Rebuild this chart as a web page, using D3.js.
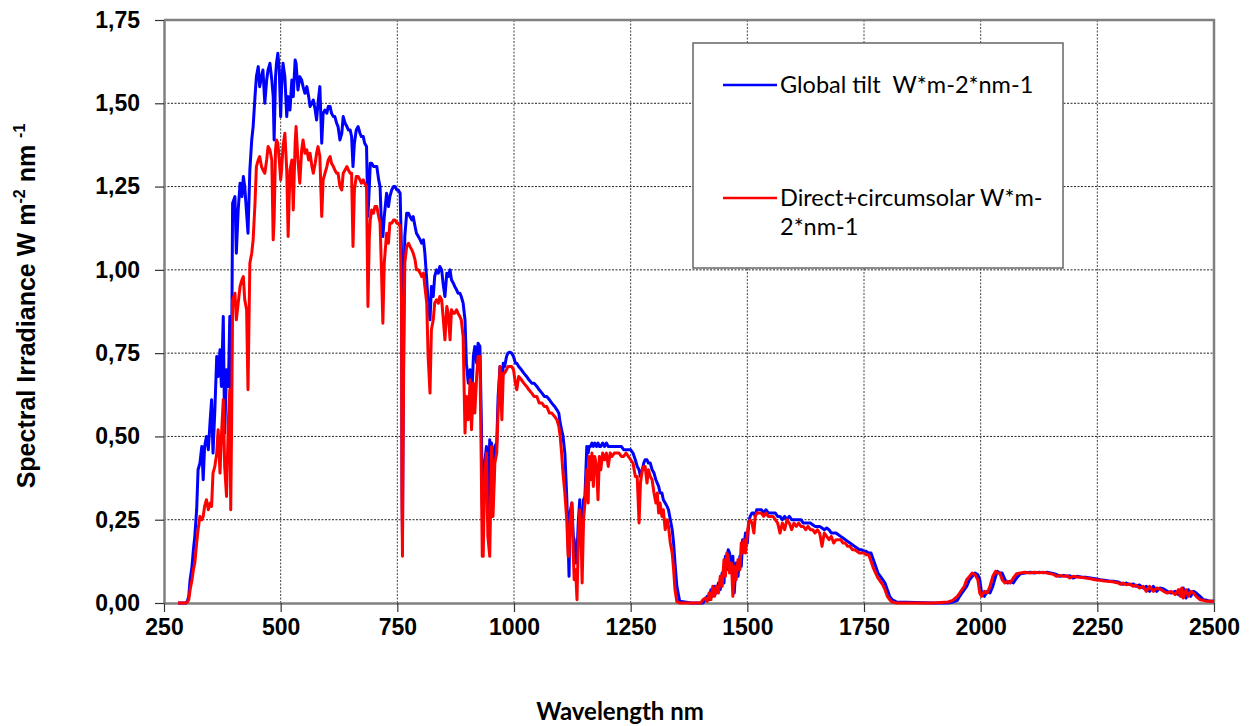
<!DOCTYPE html>
<html>
<head>
<meta charset="utf-8">
<script src="https://d3js.org/d3.v7.min.js"></script>
<style>
  body { margin: 0; background: #fff; }
</style>
</head>
<body>
<div id="my_dataviz"></div>
<script>

// wavelength (nm) and spectral irradiance (W m-2 nm-1)
var wavelength = [280,290,297,300,303,306,310,313,316,320,323,327,331,334,337,341,345,349,352,355,359,363,366,370,373,377,380,384,388,391,393,395,397,402,405,409,413,417,420,423,427,430,434,438,441,445,448,452,455,459,462,466,470,473,477,481,484,486,489,491,494,497,500,502,505,509,513,516,520,524,527,531,533,537,541,545,548,552,556,560,563,567,570,574,577,580,584,588,591,595,599,602,606,609,613,616,620,623,627,631,634,638,642,645,649,652,655,658,662,666,670,673,677,680,684,687,690,692,695,699,702,706,710,713,716,719,722,727,731,734,738,742,745,749,752,756,759,760,761,762,764,766,770,774,777,781,784,788,791,795,799,802,806,809,813,816,820,823,827,830,834,838,841,845,848,852,856,859,863,866,870,873,877,880,884,887,891,895,898,902,906,909,913,916,920,923,927,930,932,934,937,941,944,948,950,952,955,959,963,966,970,974,977,980,984,987,991,995,999,1003,1006,1010,1016,1021,1027,1032,1038,1043,1049,1054,1060,1065,1070,1076,1081,1087,1092,1096,1099,1102,1105,1109,1113,1116,1118,1120,1124,1127,1129,1132,1135,1138,1141,1144,1146,1149,1152,1156,1159,1161,1164,1167,1170,1173,1177,1180,1183,1186,1190,1194,1198,1202,1206,1210,1215,1220,1225,1230,1235,1240,1245,1250,1255,1260,1264,1268,1271,1275,1278,1281,1285,1288,1292,1296,1300,1304,1307,1310,1313,1317,1320,1324,1328,1331,1335,1339,1342,1345,1349,1355,1380,1400,1405,1410,1414,1418,1422,1426,1430,1434,1438,1442,1446,1450,1453,1456,1459,1462,1466,1469,1472,1476,1480,1484,1487,1490,1493,1496,1500,1503,1506,1510,1514,1517,1520,1525,1530,1535,1540,1545,1550,1555,1560,1565,1570,1575,1580,1585,1590,1595,1600,1605,1610,1615,1620,1625,1630,1635,1640,1645,1650,1655,1660,1665,1670,1675,1680,1685,1690,1695,1700,1705,1710,1715,1720,1725,1730,1735,1740,1745,1750,1755,1760,1765,1770,1775,1780,1785,1790,1795,1800,1805,1810,1820,1900,1930,1940,1950,1955,1960,1965,1970,1976,1982,1988,1994,1998,2002,2008,2014,2020,2026,2032,2036,2041,2046,2052,2058,2063,2070,2077,2085,2095,2106,2115,2125,2135,2142,2150,2157,2163,2170,2178,2185,2191,2198,2206,2215,2225,2235,2245,2256,2265,2275,2285,2295,2300,2305,2312,2320,2327,2333,2340,2348,2355,2362,2370,2377,2384,2392,2400,2408,2417,2424,2428,2431,2434,2440,2445,2450,2456,2462,2470,2477,2485,2492,2500];

var globalTilt = [0,0,0,0.005,0.02,0.07,0.11,0.16,0.20,0.28,0.40,0.42,0.47,0.37,0.47,0.50,0.46,0.55,0.61,0.45,0.58,0.74,0.68,0.76,0.65,0.86,0.51,0.70,0.65,0.86,0.60,0.75,1.20,1.22,1.05,1.18,1.26,1.22,1.28,1.25,1.17,1.11,1.30,1.39,1.43,1.52,1.58,1.61,1.55,1.58,1.60,1.50,1.57,1.60,1.62,1.57,1.52,1.39,1.58,1.62,1.65,1.60,1.46,1.55,1.62,1.58,1.46,1.52,1.48,1.57,1.52,1.63,1.62,1.54,1.58,1.57,1.55,1.53,1.55,1.52,1.49,1.50,1.51,1.48,1.45,1.50,1.55,1.38,1.47,1.48,1.47,1.49,1.49,1.47,1.46,1.46,1.44,1.43,1.39,1.41,1.46,1.44,1.43,1.42,1.42,1.40,1.31,1.38,1.42,1.43,1.41,1.40,1.40,1.38,1.37,1.16,1.25,1.32,1.32,1.31,1.31,1.31,1.27,1.25,1.13,1.10,1.16,1.23,1.19,1.22,1.24,1.25,1.25,1.24,1.24,1.23,1.05,0.35,0.20,0.45,0.85,1.10,1.17,1.17,1.16,1.15,1.16,1.13,1.11,1.10,1.09,1.08,1.09,1.05,0.97,0.90,0.85,0.95,0.92,0.98,1.00,0.99,1.01,1.00,0.96,0.92,0.99,0.98,1.00,0.97,0.96,0.95,0.94,0.93,0.93,0.92,0.90,0.85,0.72,0.66,0.70,0.60,0.74,0.77,0.72,0.78,0.77,0.55,0.30,0.20,0.42,0.47,0.25,0.49,0.35,0.48,0.30,0.47,0.48,0.62,0.71,0.62,0.72,0.71,0.74,0.75,0.753,0.75,0.74,0.72,0.72,0.71,0.70,0.69,0.68,0.67,0.66,0.66,0.65,0.64,0.63,0.62,0.62,0.61,0.60,0.59,0.58,0.57,0.54,0.52,0.50,0.45,0.32,0.18,0.08,0.27,0.30,0.20,0.19,0.12,0.15,0.25,0.31,0.22,0.15,0.31,0.32,0.47,0.45,0.47,0.47,0.48,0.47,0.48,0.47,0.48,0.47,0.47,0.48,0.47,0.48,0.47,0.47,0.47,0.47,0.47,0.47,0.47,0.46,0.46,0.46,0.46,0.45,0.43,0.41,0.40,0.38,0.40,0.42,0.43,0.43,0.42,0.42,0.40,0.39,0.37,0.36,0.35,0.33,0.33,0.31,0.30,0.29,0.28,0.25,0.22,0.18,0.12,0.05,0.005,0,0,0,0.01,0.02,0.01,0.04,0.02,0.05,0.03,0.06,0.04,0.09,0.06,0.14,0.10,0.16,0.15,0.10,0.14,0.03,0.12,0.08,0.14,0.11,0.19,0.17,0.21,0.18,0.24,0.26,0.27,0.27,0.26,0.28,0.28,0.28,0.27,0.28,0.27,0.27,0.27,0.27,0.26,0.26,0.25,0.26,0.25,0.26,0.25,0.25,0.25,0.25,0.25,0.24,0.24,0.24,0.24,0.235,0.23,0.23,0.23,0.225,0.22,0.225,0.22,0.21,0.21,0.21,0.205,0.20,0.195,0.19,0.185,0.18,0.175,0.17,0.165,0.16,0.16,0.155,0.155,0.15,0.15,0.13,0.11,0.09,0.08,0.07,0.06,0.04,0.02,0.01,0.003,0,0,0.003,0.008,0.02,0.03,0.04,0.05,0.07,0.08,0.09,0.085,0.07,0.03,0.02,0.035,0.03,0.05,0.08,0.095,0.09,0.09,0.07,0.06,0.065,0.06,0.075,0.088,0.09,0.092,0.09,0.092,0.091,0.092,0.09,0.088,0.085,0.08,0.083,0.08,0.082,0.075,0.08,0.078,0.077,0.075,0.073,0.07,0.068,0.066,0.065,0.063,0.06,0.056,0.06,0.055,0.057,0.05,0.054,0.045,0.05,0.035,0.05,0.035,0.045,0.042,0.035,0.03,0.035,0.025,0.04,0.02,0.045,0.015,0.04,0.02,0.035,0.03,0.02,0.01,0.008,0.005,0.006,0.004];

var directCircum = [0,0,0,0.003,0.01,0.04,0.07,0.10,0.12,0.18,0.22,0.26,0.25,0.26,0.29,0.31,0.28,0.30,0.29,0.39,0.41,0.45,0.52,0.39,0.50,0.61,0.41,0.32,0.55,0.64,0.28,0.55,0.91,0.93,0.85,0.90,0.95,0.97,0.98,0.91,0.88,0.64,1.02,1.05,1.09,1.20,1.31,1.33,1.34,1.31,1.30,1.29,1.33,1.37,1.36,1.33,1.09,1.15,1.36,1.39,1.38,1.33,1.27,1.30,1.37,1.41,1.30,1.10,1.30,1.33,1.18,1.38,1.43,1.33,1.26,1.36,1.39,1.35,1.36,1.33,1.35,1.31,1.29,1.32,1.35,1.37,1.34,1.16,1.27,1.29,1.31,1.33,1.34,1.32,1.31,1.30,1.29,1.29,1.25,1.24,1.29,1.30,1.31,1.30,1.29,1.29,1.07,1.24,1.28,1.28,1.27,1.26,1.27,1.26,1.25,0.89,1.10,1.15,1.18,1.17,1.19,1.19,1.16,1.14,1.00,0.84,1.02,1.11,1.08,1.14,1.14,1.15,1.15,1.14,1.14,1.13,0.90,0.30,0.14,0.40,0.78,1.02,1.07,1.08,1.07,1.06,1.05,1.03,1.00,1.00,0.99,0.98,0.99,0.95,0.90,0.74,0.63,0.82,0.85,0.90,0.91,0.90,0.92,0.91,0.86,0.79,0.89,0.87,0.79,0.88,0.87,0.87,0.88,0.87,0.86,0.85,0.80,0.51,0.62,0.55,0.67,0.52,0.66,0.57,0.68,0.74,0.74,0.40,0.14,0.14,0.38,0.45,0.20,0.14,0.30,0.47,0.26,0.42,0.45,0.58,0.71,0.55,0.69,0.69,0.70,0.71,0.71,0.71,0.70,0.66,0.64,0.68,0.67,0.66,0.65,0.64,0.63,0.62,0.62,0.60,0.60,0.59,0.59,0.57,0.57,0.56,0.55,0.53,0.50,0.45,0.39,0.33,0.25,0.14,0.14,0.24,0.30,0.15,0.07,0.10,0.01,0.20,0.28,0.18,0.06,0.25,0.30,0.40,0.30,0.44,0.37,0.45,0.35,0.44,0.41,0.31,0.44,0.40,0.45,0.43,0.45,0.41,0.45,0.44,0.45,0.45,0.45,0.44,0.44,0.45,0.44,0.43,0.42,0.38,0.38,0.24,0.36,0.40,0.41,0.41,0.36,0.40,0.38,0.37,0.33,0.30,0.33,0.27,0.30,0.26,0.28,0.22,0.25,0.23,0.18,0.15,0.10,0.04,0.004,0,0,0,0.01,0.015,0.005,0.03,0.01,0.05,0.02,0.05,0.03,0.08,0.05,0.13,0.08,0.15,0.14,0.09,0.12,0.02,0.11,0.07,0.13,0.10,0.18,0.15,0.19,0.15,0.21,0.24,0.25,0.24,0.21,0.26,0.27,0.27,0.27,0.26,0.27,0.26,0.26,0.26,0.25,0.24,0.21,0.24,0.22,0.25,0.24,0.22,0.24,0.23,0.24,0.23,0.23,0.22,0.23,0.22,0.22,0.21,0.22,0.21,0.17,0.21,0.20,0.19,0.20,0.18,0.19,0.19,0.19,0.18,0.18,0.17,0.17,0.16,0.16,0.155,0.15,0.15,0.15,0.145,0.145,0.125,0.105,0.09,0.075,0.065,0.055,0.04,0.02,0.01,0.003,0,0,0.003,0.008,0.02,0.03,0.04,0.05,0.07,0.08,0.09,0.085,0.07,0.03,0.02,0.035,0.03,0.05,0.08,0.095,0.09,0.09,0.07,0.06,0.065,0.06,0.075,0.088,0.09,0.092,0.09,0.092,0.091,0.092,0.09,0.088,0.085,0.08,0.083,0.08,0.082,0.075,0.08,0.078,0.077,0.075,0.073,0.07,0.068,0.066,0.065,0.063,0.06,0.056,0.06,0.055,0.057,0.05,0.054,0.045,0.05,0.035,0.05,0.035,0.045,0.042,0.035,0.03,0.035,0.025,0.04,0.02,0.045,0.015,0.04,0.02,0.035,0.03,0.02,0.01,0.008,0.005,0.006,0.004];

var xTicks = [250, 500, 750, 1000, 1250, 1500, 1750, 2000, 2250, 2500];
var yTicks = [0, 0.25, 0.5, 0.75, 1.0, 1.25, 1.5, 1.75];
var seriesNames = ["Global tilt  W*m-2*nm-1", "Direct+circumsolar W*m-2*nm-1"];
var seriesColors = ["#0000ff", "#ff0000"];

// set the dimensions and margins of the graph
var margin = {top: 20, right: 40, bottom: 123, left: 164},
    width = 1254 - margin.left - margin.right,
    height = 726 - margin.top - margin.bottom;

var root = d3.select("#my_dataviz")
  .append("svg")
    .attr("width", 1254)
    .attr("height", 726);

var svg = root.append("g")
    .attr("transform", "translate(" + margin.left + "," + margin.top + ")");

var x = d3.scaleLinear().domain([250, 2500]).range([0, width]);
var y = d3.scaleLinear().domain([0, 1.75]).range([height, 0]);

var comma = d3.formatLocale({decimal: ",", thousands: ".", grouping: [3], currency: ["", ""]}).format(".2f");

// grid
svg.append("g")
  .selectAll("line")
  .data(yTicks.slice(1, -1))
  .enter().append("line")
    .attr("x1", 0).attr("x2", width)
    .attr("y1", function(d) { return y(d); })
    .attr("y2", function(d) { return y(d); })
    .attr("stroke", "#222")
    .attr("stroke-width", 1)
    .attr("stroke-dasharray", "2,1.5");

svg.append("g")
  .selectAll("line")
  .data(xTicks.slice(1, -1))
  .enter().append("line")
    .attr("y1", 0).attr("y2", height)
    .attr("x1", function(d) { return x(d); })
    .attr("x2", function(d) { return x(d); })
    .attr("stroke", "#444")
    .attr("stroke-width", 1)
    .attr("stroke-dasharray", "2,1.5");

// axes
var xAxis = svg.append("g")
  .attr("transform", "translate(0," + height + ")")
  .call(d3.axisBottom(x).tickValues(xTicks).tickSize(9).tickSizeOuter(0).tickPadding(7).tickFormat(d3.format("d")));

var yAxis = svg.append("g")
  .call(d3.axisLeft(y).tickValues(yTicks).tickSize(9).tickSizeOuter(0).tickPadding(15).tickFormat(comma));

[xAxis, yAxis].forEach(function(ax) {
  ax.select(".domain").attr("stroke", "#808080").attr("stroke-width", 2.5);
  ax.selectAll(".tick line").attr("stroke", "#333").attr("stroke-width", 1.2);
  ax.selectAll(".tick text")
    .attr("fill", "#000")
    .style("font-family", "Arial, 'Liberation Sans', sans-serif")
    .style("font-weight", "bold")
    .style("font-size", "23px");
});

// top and right border
svg.append("path")
  .attr("d", "M0,0H" + width + "V" + height)
  .attr("fill", "none")
  .attr("stroke", "#808080")
  .attr("stroke-width", 2.5);

// spectra
var series = [globalTilt, directCircum];
var line = d3.line()
  .x(function(d, i) { return x(wavelength[i]); })
  .y(function(d) { return y(d); });

svg.append("g")
  .selectAll("path")
  .data(series)
  .enter().append("path")
    .attr("d", function(d) { return line(d); })
    .attr("fill", "none")
    .attr("stroke", function(d, i) { return seriesColors[i]; })
    .attr("stroke-width", 3)
    .attr("stroke-linejoin", "round");

// legend
var legend = root.append("g").attr("transform", "translate(693,43)");
legend.append("rect")
  .attr("width", 370).attr("height", 225)
  .attr("fill", "#fff")
  .attr("stroke", "#666")
  .attr("stroke-width", 1.5);

var legendFont = "Lato, 'Open Sans', sans-serif";
legend.append("line")
  .attr("x1", 30).attr("x2", 84).attr("y1", 42).attr("y2", 42)
  .attr("stroke", seriesColors[0]).attr("stroke-width", 2.5);
legend.append("text")
  .attr("x", 87).attr("y", 50)
  .style("font-family", legendFont).style("font-size", "23.5px")
  .style("white-space", "pre")
  .text(seriesNames[0]);

legend.append("line")
  .attr("x1", 30).attr("x2", 84).attr("y1", 155).attr("y2", 155)
  .attr("stroke", seriesColors[1]).attr("stroke-width", 2.5);
legend.append("text")
  .attr("x", 87).attr("y", 163)
  .style("font-family", legendFont).style("font-size", "23.5px")
  .text("Direct+circumsolar W*m-");
legend.append("text")
  .attr("x", 87).attr("y", 192)
  .style("font-family", legendFont).style("font-size", "23.5px")
  .text("2*nm-1");

// axis titles
root.append("text")
  .attr("x", 620).attr("y", 720)
  .attr("text-anchor", "middle")
  .style("font-family", legendFont)
  .style("font-weight", "bold")
  .style("font-size", "24px")
  .text("Wavelength nm");

var yTitle = root.append("text")
  .attr("transform", "translate(35,306) rotate(-90)")
  .attr("text-anchor", "middle")
  .style("font-family", "Arial, 'Liberation Sans', sans-serif")
  .style("font-weight", "bold")
  .style("font-size", "25px");
yTitle.append("tspan").text("Spectral Irradiance W m");
yTitle.append("tspan").attr("dy", -10).style("font-size", "16px").text("-2");
yTitle.append("tspan").attr("dy", 10).text(" nm ");
yTitle.append("tspan").attr("dy", -10).style("font-size", "16px").text("-1");

</script>
</body>
</html>
